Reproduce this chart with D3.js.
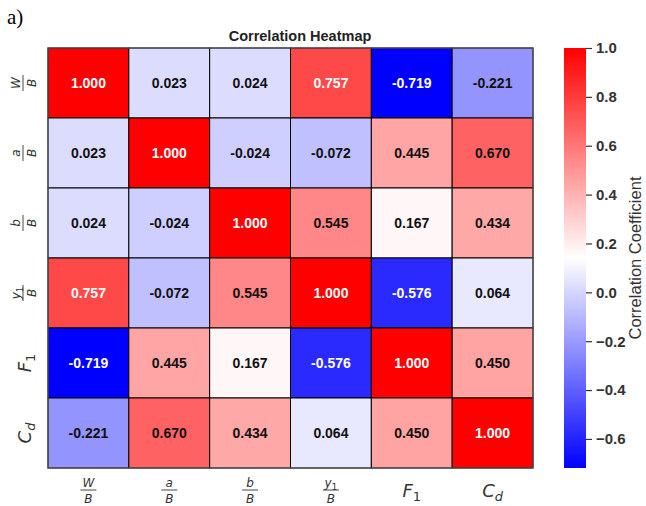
<!DOCTYPE html>
<html>
<head>
<meta charset="utf-8">
<script src="https://cdn.jsdelivr.net/npm/d3@7"></script>
<style>
  html, body { margin: 0; padding: 0; background: #fff; }
  svg { display: block; }
</style>
</head>
<body>
<svg id="chart" width="646" height="506"></svg>
<script>
// Variables (mini-markup: "num/den" is a fraction, "_" starts a subscript)
const categories = ["W/B", "a/B", "b/B", "y_1/B", "F_1", "C_d"];

// Correlation matrix rows
const rowWB = [1.000, 0.023, 0.024, 0.757, -0.719, -0.221];
const rowAB = [0.023, 1.000, -0.024, -0.072, 0.445, 0.670];
const rowBB = [0.024, -0.024, 1.000, 0.545, 0.167, 0.434];
const rowY1B = [0.757, -0.072, 0.545, 1.000, -0.576, 0.064];
const rowF1 = [-0.719, 0.445, 0.167, -0.576, 1.000, 0.450];
const rowCd = [-0.221, 0.670, 0.434, 0.064, 0.450, 1.000];
const matrix = [rowWB, rowAB, rowBB, rowY1B, rowF1, rowCd];

const colorbarTicks = [1.0, 0.8, 0.6, 0.4, 0.2, 0.0, -0.2, -0.4, -0.6];

const svg = d3.select("#chart");
const plotL = 48, plotT = 48, plotR = 533, plotB = 468;

const x = d3.scaleBand().domain(d3.range(categories.length)).range([plotL, plotR]);
const y = d3.scaleBand().domain(d3.range(categories.length)).range([plotT, plotB]);

const vals = matrix.flat();
const vmin = d3.min(vals), vmax = d3.max(vals);

// blue-white-red colormap
function bwr(t) {
  t = Math.max(0, Math.min(1, t));
  if (t < 0.5) { const c = 2 * t; return [c, c, 1]; }
  const c = 2 * (1 - t); return [1, c, c];
}
const norm = d3.scaleLinear().domain([vmin, vmax]).range([0, 1]);
function color(v) {
  const [r, g, b] = bwr(norm(v));
  return d3.rgb(Math.round(r * 255), Math.round(g * 255), Math.round(b * 255));
}
function textColor(v) {
  const c = color(v);
  const lum = 0.299 * c.r + 0.587 * c.g + 0.114 * c.b;
  return lum < 128 ? "#ffffff" : "#111111";
}

// "a)" panel tag
svg.append("text").attr("x", 7).attr("y", 24)
  .attr("font-family", "'Liberation Serif', 'Times New Roman', serif")
  .attr("font-size", 21).attr("fill", "#000").text("a)");

// Title
svg.append("text").attr("x", 300).attr("y", 41)
  .attr("text-anchor", "middle")
  .attr("font-family", "'Liberation Sans', Arial, sans-serif")
  .attr("font-weight", "bold").attr("font-size", 14.5).attr("fill", "#222")
  .text("Correlation Heatmap");

// Cells
const cells = svg.append("g");
matrix.forEach((row, i) => {
  row.forEach((v, j) => {
    cells.append("rect")
      .attr("x", x(j)).attr("y", y(i))
      .attr("width", x.bandwidth()).attr("height", y.bandwidth())
      .attr("fill", color(v))
      .attr("stroke", "#000").attr("stroke-width", 1);
    cells.append("text")
      .attr("x", x(j) + x.bandwidth() / 2)
      .attr("y", y(i) + y.bandwidth() / 2)
      .attr("dy", "0.36em")
      .attr("text-anchor", "middle")
      .attr("font-family", "'Liberation Sans', Arial, sans-serif")
      .attr("font-weight", "bold").attr("font-size", 14)
      .attr("fill", textColor(v))
      .text(v.toFixed(3));
  });
});
// outer frame
svg.append("rect").attr("x", plotL).attr("y", plotT)
  .attr("width", plotR - plotL).attr("height", plotB - plotT)
  .attr("fill", "none").attr("stroke", "#555").attr("stroke-width", 1.2);

// Math-style labels: letters italic, digits upright
const mathFont = "'DejaVu Sans', sans-serif";
function styleFor(s) { return /^[0-9]+$/.test(s) ? "normal" : "italic"; }
function appendTerm(textSel, term, size) {
  const parts = term.split("_");
  textSel.append("tspan").attr("font-style", styleFor(parts[0])).text(parts[0]);
  if (parts[1]) {
    textSel.append("tspan").attr("font-style", styleFor(parts[1]))
      .attr("font-size", size * 0.72).attr("dy", size * 0.22).text(parts[1]);
  }
}
function drawLabel(g, label) {
  g.attr("font-family", mathFont).attr("fill", "#333");
  if (label.includes("/")) {
    const [num, den] = label.split("/");
    const fs = 12;
    const n = g.append("text").attr("text-anchor", "middle").attr("y", -3)
      .attr("font-size", fs);
    appendTerm(n, num, fs);
    g.append("line").attr("x1", -8).attr("x2", 8).attr("y1", 0).attr("y2", 0)
      .attr("stroke", "#333").attr("stroke-width", 0.9);
    const d = g.append("text").attr("text-anchor", "middle").attr("y", 12.5)
      .attr("font-size", fs);
    appendTerm(d, den, fs);
  } else {
    const fs = 18;
    const t = g.append("text").attr("text-anchor", "middle").attr("y", 6)
      .attr("font-size", fs);
    appendTerm(t, label, fs);
  }
}

// x-axis labels
categories.forEach((c, j) => {
  const isFrac = c.includes("/");
  const g = svg.append("g")
    .attr("transform", `translate(${x(j) + x.bandwidth() / 2},${isFrac ? 490 : 491})`);
  drawLabel(g, c);
});
// y-axis labels (rotated)
categories.forEach((c, i) => {
  const isFrac = c.includes("/");
  const g = svg.append("g")
    .attr("transform", `translate(${isFrac ? 23 : 25},${y(i) + y.bandwidth() / 2}) rotate(-90)`);
  drawLabel(g, c);
});

// Colorbar
const cbX = 564, cbW = 22;
const cbScale = d3.scaleLinear().domain([vmin, vmax]).range([plotB, plotT]);
const defs = svg.append("defs");
const grad = defs.append("linearGradient").attr("id", "cbgrad")
  .attr("x1", 0).attr("y1", 1).attr("x2", 0).attr("y2", 0);
d3.range(0, 1.0001, 0.05).forEach(t => {
  const [r, g, b] = bwr(t);
  grad.append("stop").attr("offset", t)
    .attr("stop-color", d3.rgb(r * 255, g * 255, b * 255));
});
svg.append("rect").attr("x", cbX).attr("y", plotT)
  .attr("width", cbW).attr("height", plotB - plotT)
  .attr("fill", "url(#cbgrad)");

const cbAxis = d3.axisRight(cbScale).tickValues(colorbarTicks)
  .tickSize(6).tickPadding(4)
  .tickFormat(d => d3.format(".1f")(d).replace("-", "\u2212"));
const ag = svg.append("g").attr("transform", `translate(${cbX + cbW},0)`).call(cbAxis);
ag.select(".domain").remove();
ag.selectAll(".tick line").attr("stroke", "#333").attr("stroke-width", 1.2);
ag.selectAll(".tick text")
  .attr("font-family", "'Liberation Sans', Arial, sans-serif")
  .attr("font-weight", "bold").attr("font-size", 15).attr("fill", "#333");

svg.append("text")
  .attr("transform", `translate(641,${(plotT + plotB) / 2}) rotate(-90)`)
  .attr("text-anchor", "middle")
  .attr("font-family", "'Liberation Sans', Arial, sans-serif")
  .attr("font-size", 16.5).attr("fill", "#333")
  .text("Correlation Coefficient");
</script>
</body>
</html>
